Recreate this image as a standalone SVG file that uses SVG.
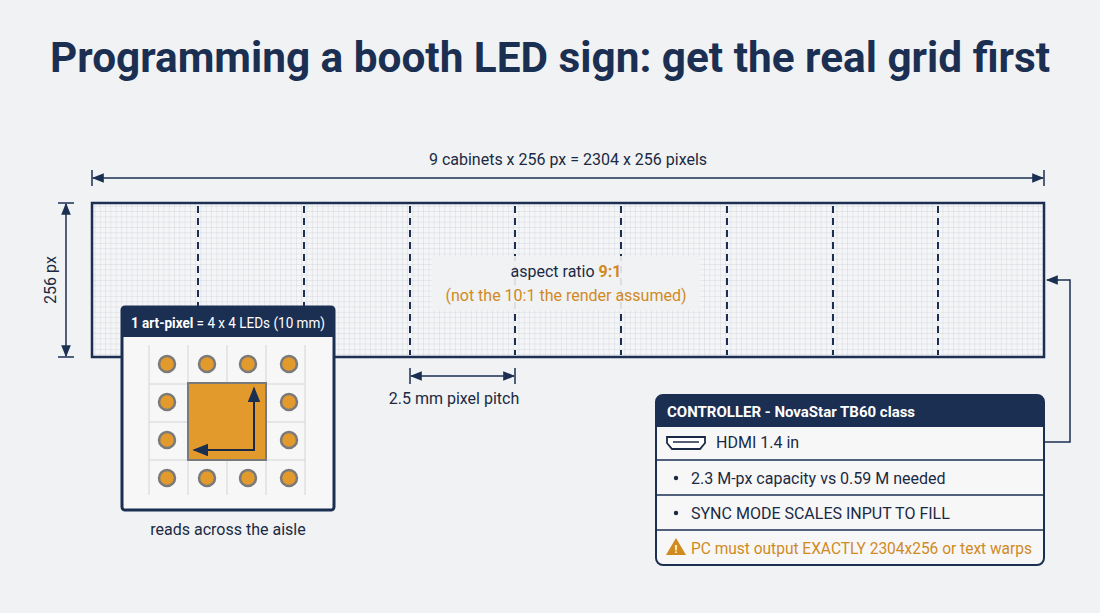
<svg xmlns="http://www.w3.org/2000/svg" width="1100" height="613" viewBox="0 0 1100 613">
<defs>
<style>
text{font-family:Roboto,"Liberation Sans",sans-serif}
.t{fill:#1b2a44}
.w{fill:#ffffff}
.o{fill:#d08a1f}
.dk{stroke:#1b2f52;fill:none;stroke-width:1.5}
.cab{stroke:#1b2f52;stroke-width:2;stroke-dasharray:7,5}
.led{fill:#e39a2c;stroke:#7a7a7a;stroke-width:2.5}
.cell{stroke:#d2d4d8;stroke-width:1;fill:none}
</style>
<pattern id="g" width="5.3" height="5.3" patternUnits="userSpaceOnUse"><path d="M5.3 0V5.3H0" fill="none" stroke="#c4c8ce" stroke-width="0.6"/></pattern>
<marker id="a" viewBox="0 0 10 10" refX="9" refY="5" markerWidth="8" markerHeight="8" orient="auto-start-reverse"><path d="M0 1L10 5L0 9z" fill="#1b2f52"/></marker>
</defs>
<rect width="1100" height="613" fill="#f1f2f3"/>
<text x="550" y="72" text-anchor="middle" font-size="42" font-weight="bold" style="fill:#1b2f52" textLength="1000" lengthAdjust="spacingAndGlyphs">Programming a booth LED sign: get the real grid first</text>

<g id="connectors">
<line class="dk" x1="93" y1="178" x2="1043" y2="178" marker-start="url(#a)" marker-end="url(#a)"/>
<line class="dk" x1="92" y1="170" x2="92" y2="186"/><line class="dk" x1="1044" y1="170" x2="1044" y2="186"/>
<line class="dk" x1="66" y1="204" x2="66" y2="356" marker-start="url(#a)" marker-end="url(#a)"/>
<line class="dk" x1="58" y1="203" x2="74" y2="203"/><line class="dk" x1="58" y1="357" x2="74" y2="357"/>
<line class="dk" x1="411" y1="376" x2="514" y2="376" marker-start="url(#a)" marker-end="url(#a)"/>
<line class="dk" x1="410" y1="368" x2="410" y2="384"/><line class="dk" x1="515" y1="368" x2="515" y2="384"/>
<path class="dk" d="M1044 442H1070V280H1047" marker-end="url(#a)"/>
</g>
<text class="t" x="568" y="165" text-anchor="middle" font-size="16">9 cabinets x 256 px = 2304 x 256 pixels</text>
<text class="t" x="56" y="280" text-anchor="middle" font-size="16" transform="rotate(-90 56 280)">256 px</text>
<text class="t" x="454" y="404" text-anchor="middle" font-size="16">2.5 mm pixel pitch</text>

<g id="panel">
<rect x="92" y="203" width="952" height="154" fill="#f4f5f7"/>
<rect x="92" y="203" width="952" height="154" fill="url(#g)"/>
<line class="cab" x1="198" y1="206" x2="198" y2="355"/><line class="cab" x1="304" y1="206" x2="304" y2="355"/>
<line class="cab" x1="410" y1="206" x2="410" y2="355"/><line class="cab" x1="515" y1="206" x2="515" y2="355"/>
<line class="cab" x1="621" y1="206" x2="621" y2="355"/><line class="cab" x1="727" y1="206" x2="727" y2="355"/>
<line class="cab" x1="833" y1="206" x2="833" y2="355"/><line class="cab" x1="938" y1="206" x2="938" y2="355"/>
<rect x="92" y="203" width="952" height="154" fill="none" stroke="#1b2f52" stroke-width="2.5"/>
<rect x="432" y="256" width="268" height="54" fill="#f1f2f3" opacity="0.9"/>
<text class="t" x="566" y="277" text-anchor="middle" font-size="16">aspect ratio <tspan class="o" font-weight="bold">9:1</tspan></text>
<text class="o" x="566" y="301" text-anchor="middle" font-size="16">(not the 10:1 the render assumed)</text>
</g>

<g id="artpixel">
<rect x="122" y="307" width="212" height="203" rx="3" fill="#f7f7f8" stroke="#1b2f52" stroke-width="3"/>
<path d="M122 337V310a3 3 0 0 1 3-3H331a3 3 0 0 1 3 3V337z" fill="#1b2f52"/>
<text class="w" x="131" y="328" font-size="14" textLength="194" lengthAdjust="spacingAndGlyphs"><tspan class="w" font-weight="bold">1 art-pixel</tspan> = 4 x 4 LEDs (10 mm)</text>
<path class="cell" d="M149 345V495M188 345V495M227 345V495M266 345V495M305 345V495M149 384H305M149 422H305M149 460H305"/>
<rect x="188" y="383" width="78" height="77" fill="#e39a2c" stroke="#7a7a7a" stroke-width="2"/>
<path d="M254 388V450H194" stroke="#1b2a44" stroke-width="2" fill="none" marker-start="url(#a)" marker-end="url(#a)"/>
<g class="led">
<circle cx="167" cy="364" r="8"/><circle cx="207" cy="364" r="8"/><circle cx="248" cy="364" r="8"/><circle cx="289" cy="364" r="8"/>
<circle cx="167" cy="402" r="8"/><circle cx="289" cy="402" r="8"/>
<circle cx="167" cy="440" r="8"/><circle cx="289" cy="440" r="8"/>
<circle cx="167" cy="478" r="8"/><circle cx="207" cy="478" r="8"/><circle cx="248" cy="478" r="8"/><circle cx="289" cy="478" r="8"/>
</g>
<text class="t" x="228" y="535" text-anchor="middle" font-size="16">reads across the aisle</text>
</g>

<g id="controller">
<rect x="656" y="395" width="388" height="170" rx="7" fill="#f7f7f8" stroke="#1b2f52" stroke-width="2"/>
<path d="M656 427V402a7 7 0 0 1 7-7H1037a7 7 0 0 1 7 7V427z" fill="#1b2f52"/>
<text class="w" x="667" y="417" font-size="15" font-weight="bold">CONTROLLER - NovaStar TB60 class</text>
<path d="M656 460H1044M656 495H1044M656 530H1044" stroke="#1b2f52" stroke-width="1.5"/>
<path d="M667 437H705V443L700 449H672L667 443z" fill="#fff" stroke="#1b2a44" stroke-width="1.8"/>
<line x1="673" y1="442" x2="699" y2="442" stroke="#1b2a44" stroke-width="1.5"/>
<text class="t" x="716" y="448" font-size="16">HDMI 1.4 in</text>
<circle cx="676" cy="478" r="2.2" fill="#1b2a44"/>
<text class="t" x="691" y="484" font-size="16">2.3 M-px capacity vs 0.59 M needed</text>
<circle cx="676" cy="513" r="2.2" fill="#1b2a44"/>
<text class="t" x="691" y="519" font-size="16">SYNC MODE SCALES INPUT TO FILL</text>
<path d="M676 538L686 555H666z" fill="#d08a1f"/>
<text class="w" x="676" y="553" text-anchor="middle" font-size="11" font-weight="bold">!</text>
<text class="o" x="691" y="554" font-size="16" textLength="341" lengthAdjust="spacingAndGlyphs">PC must output EXACTLY 2304x256 or text warps</text>
</g>
</svg>
